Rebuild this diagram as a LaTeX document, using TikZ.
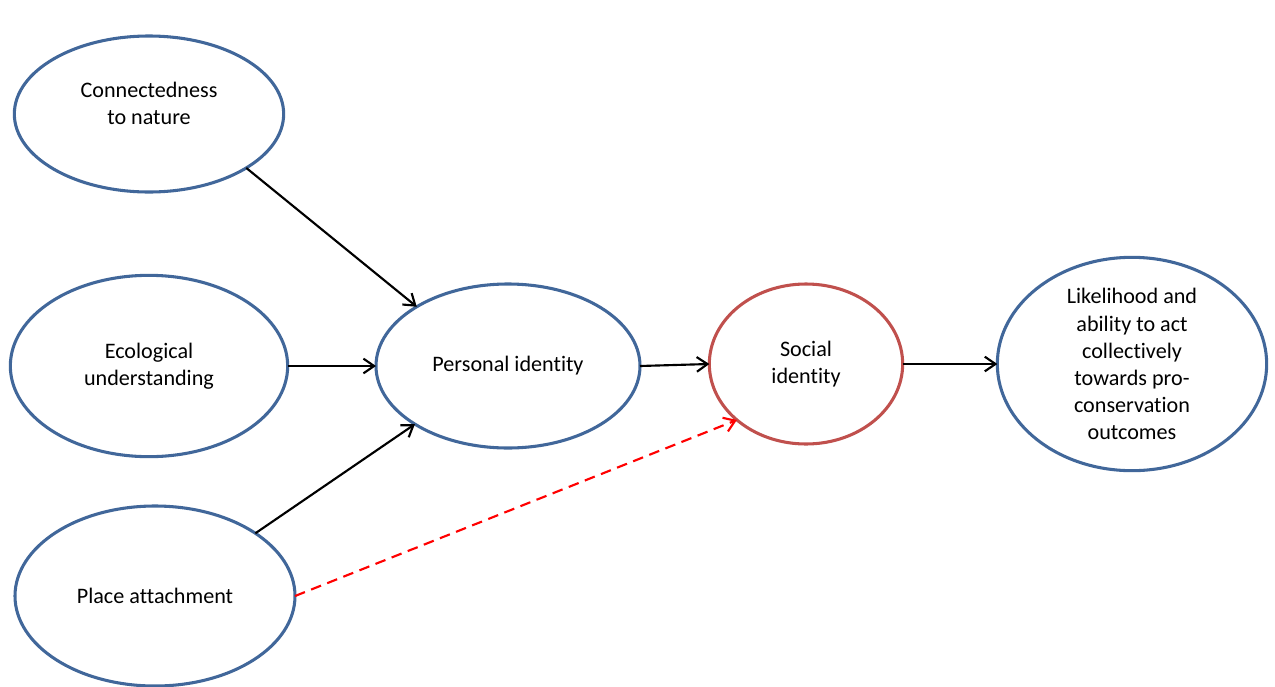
\documentclass[tikz,border=0pt]{standalone}
\usepackage{fontspec}
\setmainfont[Ligatures={NoCommon}]{Carlito}
\usetikzlibrary{shapes.geometric,arrows.meta}
\definecolor{ellblue}{HTML}{41679A}
\definecolor{ellred}{HTML}{C0504D}
\begin{document}
\begin{tikzpicture}[x=0.75pt,y=-0.75pt,
  ell/.style={ellipse,draw=ellblue,line width=2.3pt,inner sep=0pt,outer sep=0pt},
  txt/.style={align=center,font=\fontsize{16.6}{20.3}\selectfont,inner sep=0pt},
  link/.style={line width=1.6pt,-{Straight Barb[length=8pt,width=11pt,line width=1.6pt]}},
  hint/.style={link,red,dash pattern=on 8pt off 5pt}]
\useasboundingbox (0,0) rectangle (1275,686);
% outer ellipses
\node[ell,minimum width=202pt,minimum height=117pt] (conn) at (149,114) {};
\node[txt] (conntxt) at (149,103) {Connectedness\\to nature};
\node[ell,minimum width=208pt,minimum height=136pt,txt] (eco) at (149,366) {Ecological\\understanding};
\node[ell,minimum width=210pt,minimum height=135pt,txt] (place) at (155,596) {Place attachment};
% central chain
\node[ell,minimum width=198pt,minimum height=123pt,txt] (pers) at (508,366) {Personal identity};
\node[ell,draw=ellred,minimum width=145pt,minimum height=120pt,txt] (soc) at (806,364) {Social\\identity};
\node[ell,minimum width=202pt,minimum height=148pt,txt] (like) at (1132,364) {Likelihood and\\ability to act\\collectively\\towards pro-\\conservation\\outcomes};
% connectors
\draw[link] (conn.-29) -- (pers.147);
\draw[link] (eco.east) -- (pers.west);
\draw[link] (place.32) -- (pers.212);
\draw[link] (pers.east) -- (soc.west);
\draw[link] (soc.east) -- (like.west);
\draw[hint] (place.east) -- (soc.219);
\end{tikzpicture}
\end{document}
